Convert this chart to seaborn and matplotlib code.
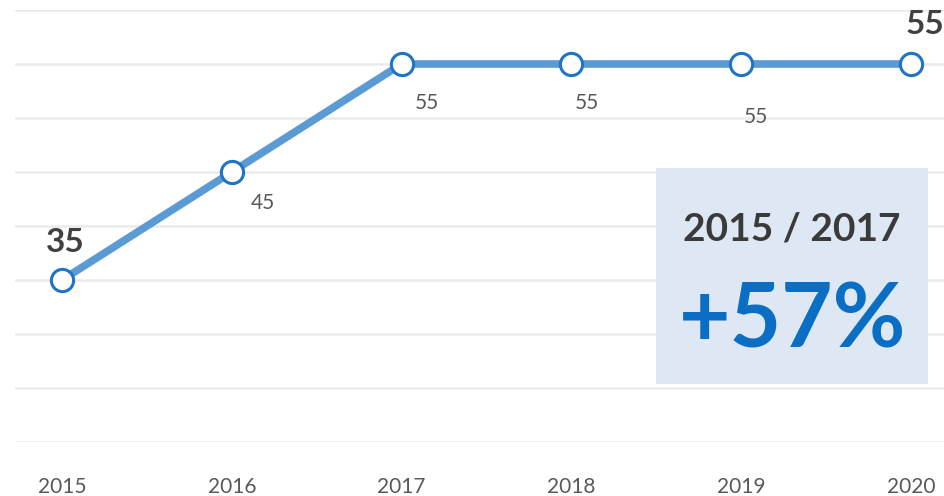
import numpy as np
import pandas as pd
import matplotlib
matplotlib.use('Agg')
import matplotlib.pyplot as plt
from matplotlib.patches import Rectangle
import seaborn as sns

years = [2015, 2016, 2017, 2018, 2019, 2020]
values = [35, 45, 55, 55, 55, 55]
tick_labels = ['2015', '2016', '2017', '2018', '2019', '2020']
box_title = '2015 / 2017'
box_value = '+57%'

sns.set_style('white')
plt.rcParams['font.family'] = ['Lato', 'DejaVu Sans']

df = pd.DataFrame({'year': years, 'value': values})

fig = plt.figure(figsize=(9.45, 4.96), dpi=100)
ax = fig.add_axes([15 / 945, 1 - 442 / 496, 1 - 15 / 945, 432 / 496])

sns.lineplot(data=df, x='year', y='value', ax=ax, color='#5b9bd5', linewidth=5.5,
             marker='o', markersize=16, markerfacecolor='white',
             markeredgecolor='#1f74c6', markeredgewidth=2.2, zorder=3)

ax.set_xlim(2015 - 0.277, 2020 + 0.2)
ax.set_ylim(20, 60)
ax.set_yticks(np.arange(20, 61, 5))
ax.yaxis.grid(True, color='#ebebeb', linewidth=1.8)
ax.set_axisbelow(True)
ax.tick_params(axis='y', left=False, labelleft=False)
ax.set_xticks(years)
ax.set_xticklabels(tick_labels, fontsize=15, color='#595959')
ax.tick_params(axis='x', bottom=False, pad=22)
ax.set_xlabel('')
ax.set_ylabel('')
for s in ax.spines.values():
    s.set_visible(False)

# data labels: offsets in pixels from each point
label_offsets = [(3, 38), (31, -31), (25, -39), (15, -39), (15, -53), (14, 39)]
for i, (x, v) in enumerate(zip(years, values)):
    big = i == 0 or i == len(years) - 1
    ax.annotate(str(v), (x, v), xytext=label_offsets[i], textcoords='offset pixels',
                ha='center', va='center',
                fontsize=24 if big else 15,
                fontweight='bold' if big else 'normal',
                color='#404040' if big else '#595959',
                annotation_clip=False)

# highlight box
bx0 = 2015 + (657 - 62) / 170
bx1 = 2015 + (929 - 62) / 170
by0 = 55 - (384 - 64) / 10.8
by1 = 55 - (168 - 64) / 10.8
ax.add_patch(Rectangle((bx0, by0), bx1 - bx0, by1 - by0, facecolor='#dee8f4',
                       edgecolor='none', zorder=4))
cx = (bx0 + bx1) / 2
ax.text(cx, 55 - (229 - 64) / 10.8, box_title, ha='center', va='center',
        fontsize=28, fontweight='bold', color='#3a3a3a', zorder=5)
ax.text(cx, 55 - (322 - 64) / 10.8, box_value, ha='center', va='center',
        fontsize=64, fontweight='bold', color='#0a6fc4', zorder=5)

fig.savefig('out.png', dpi=100)
